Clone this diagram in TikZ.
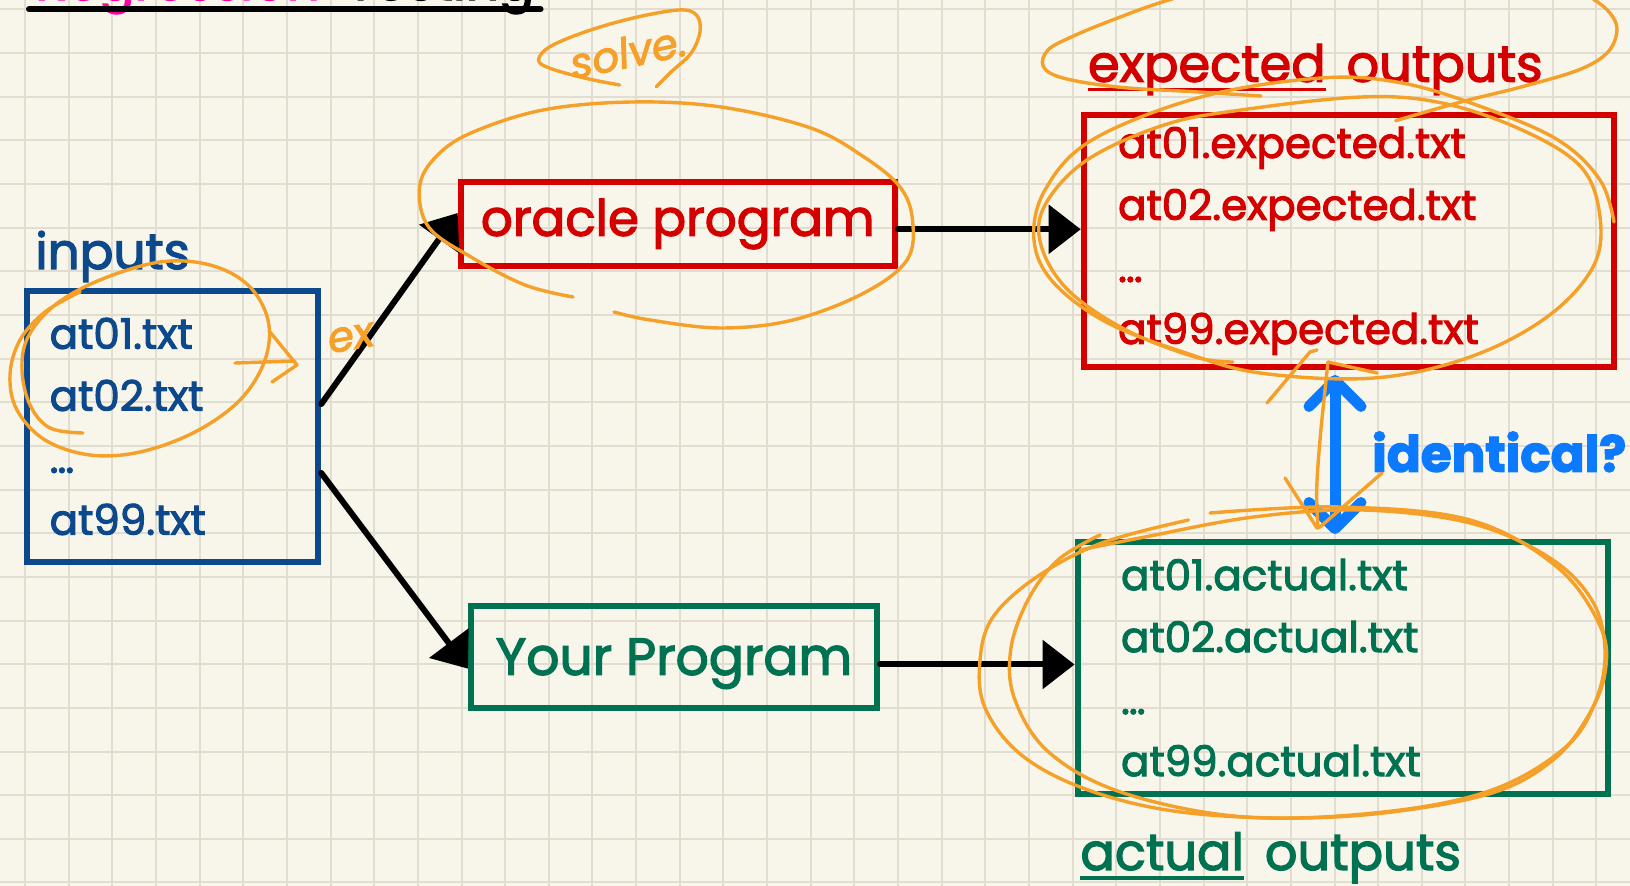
\documentclass[tikz,border=0pt]{standalone}
\usepackage{fontspec}
\setmainfont{Poppins}[FakeBold=2.5]
\usepackage{tikz}
\usetikzlibrary{arrows.meta,positioning,calc}
\definecolor{paper}{RGB}{248,246,234}
\definecolor{gridgray}{RGB}{225,222,209}
\definecolor{inputblue}{RGB}{12,72,140}
\definecolor{oraclered}{RGB}{212,0,0}
\definecolor{progreen}{RGB}{0,114,82}
\definecolor{askblue}{RGB}{12,122,255}
\definecolor{marker}{RGB}{245,160,40}
\definecolor{titlepink}{RGB}{255,0,160}
\tikzset{
    listbox/.style={rectangle, draw, line width=3pt, align=left, inner ysep=0pt, minimum height=125.85pt, font=\fontsize{21}{31}\selectfont},
    progbox/.style={rectangle, draw, line width=3pt, inner sep=0pt, font=\fontsize{25}{30}\selectfont},
    heading/.style={inner sep=0pt, anchor=base west, font=\fontsize{25.5}{32}\selectfont},
    flow/.style={draw, line width=3pt, line cap=round, -{Triangle[length=16pt, width=24pt]}},
    compare/.style={draw=askblue, line width=5.5pt, line cap=round, {Straight Barb[length=13pt, width=26pt, round]}-{Straight Barb[length=13pt, width=26pt, round]}},
    scribble/.style={draw=marker, line width=1.7pt, line cap=round, line join=round},
    scrawl/.style={marker, inner sep=0pt, font=\fontsize{21}{25}\selectfont\itshape},
    gridline/.style={draw=gridgray, line width=1pt}
}
\begin{document}
\begin{tikzpicture}[x=0.5pt, y=-0.5pt]
    \useasboundingbox (0,0) rectangle (1630,886);
    \clip (0,0) rectangle (1630,886);
    \fill [paper] (0,0) rectangle (1630,886);

    % squared paper
    \foreach \i in {0,...,36}
        \draw [gridline] ({25+43.65*\i},0) -- ({25+43.65*\i},886);
    \foreach \j in {0,...,20}
        \draw [gridline] (0,{9.5+43.65*\j}) -- (1630,{9.5+43.65*\j});

    % title (runs off the top)
    \node [heading, titlepink, font=\fontsize{26}{30}\selectfont] (regr) at (35,0) {Regression};
    \node [heading, font=\fontsize{26}{30}\selectfont, right=13pt of regr.base east, anchor=base west] (testing) {Testing};
    \draw [line width=3pt, line cap=round] ([shift={(-3pt,-4.65pt)}]regr.base west) -- ([shift={(3pt,-4.65pt)}]testing.base east);

    % boxes
    \node [listbox, inputblue, text width=122.8pt, inner xsep=11.5pt, minimum height=135.5pt] (inputs) at (172.5,426.5) {at01.txt\\at02.txt\\\dots\\at99.txt};
    \node [progbox, oraclered, minimum width=217pt, minimum height=41.9pt] (oracle) at (677.7,224) {oracle program};
    \node [progbox, progreen, minimum width=203pt, minimum height=50.85pt, text depth=0pt, font=\fontsize{26}{30}\selectfont] (program) at (674,656.7) {Your Program};
    \node [listbox, oraclered, text width=230.5pt, inner xsep=17.2pt] (expected) at (1348.6,240.8) {at01.expected.txt\\at02.expected.txt\\\dots\\at99.expected.txt};
    \node [listbox, progreen, text width=221.75pt, inner xsep=21.75pt] (actual) at (1342.8,667.7) {at01.actual.txt\\at02.actual.txt\\\dots\\at99.actual.txt};

    % headings
    \node [heading, inputblue, font=\fontsize{25}{30}\selectfont] (inlabel) at (35,269) {inputs};
    \node [heading, oraclered] (expword) at (1087.6,81.7) {expected};
    \node [heading, oraclered, right=10pt of expword.base east, anchor=base west] (expout) {outputs};
    \draw [oraclered, line width=1.5pt] ([yshift=-3.8pt]expword.base west) -- ([yshift=-3.8pt]expword.base east);
    \node [heading, progreen] (actword) at (1080,870) {actual};
    \node [heading, progreen, right=10pt of actword.base east, anchor=base west] (actout) {outputs};
    \draw [progreen, line width=2pt] ([yshift=-3.85pt]actword.base west) -- ([yshift=-3.85pt]actword.base east);

    % data flow
    \draw [flow] ([yshift=11.25pt]inputs.east) -- ([yshift=5.5pt]oracle.west);
    \draw [flow] ([yshift=-23.25pt]inputs.east) -- ([yshift=-6pt]program.west);
    \draw [flow] ([yshift=-2.65pt]oracle.east) -- ([yshift=-2.65pt]oracle.east -| expected.west);
    \draw [flow] ([yshift=-3.9pt]program.east) -- ([yshift=-3.9pt]program.east -| actual.west);

    % comparison
    \coordinate (cmptop) at ([xshift=-6.8pt]expected.south);
    \path (cmptop |- actual.north) coordinate (cmpbot);
    \draw [compare] ([yshift=-2.65pt]cmptop) -- ([yshift=2.4pt]cmpbot);
    \node [heading, askblue, font=\fontsize{25}{30}\selectfont\bfseries] (same) at (1371.7,471.7) {identical?};

    % marker notes on top
    \draw [scribble] plot [smooth, tension=0.6] coordinates {(619.6,85) (585.7,78.3) (550,68.3) (538.6,60) (550,46.7) (585.7,31.7) (632,18.3) (678.6,10) (696.4,15) (700,31.7) (691,53.3) (671.4,71.7) (656.4,86.7)};
    \node [scrawl, rotate=12] (solve) at (628,52) {solve.};
    \draw [scribble] plot [smooth, tension=0.6] coordinates {(573,297) (525,285) (471,257) (428.6,227) (419.6,187) (435.7,157) (471,133) (543,110) (632,102) (721,107) (810.7,128) (864,157) (900,187) (912.5,220) (907,260) (864,293) (793,320) (721,328) (650,320) (614,312)};
    \draw [scribble] plot [smooth, tension=0.6] coordinates {(83,433) (50,428) (30,405) (22,370) (28,337) (55,305) (100,280) (160,262) (210,265) (248,285) (268,320) (265,360) (240,400) (195,432) (140,452) (90,455) (45,440) (17,410) (10,375) (20,340) (45,312) (80,292)};
    \draw [scribble] (235,363) -- (295,361);
    \draw [scribble] (270,332) -- (297,365) -- (272,382);
    \node [scrawl, rotate=10] (ex) at (351,338) {ex};
    \draw [scribble] plot [smooth, tension=0.6] coordinates {(1261,96) (1193,91.7) (1120.5,87.3) (1064,78.3) (1043.4,66.7) (1048,50) (1072,36.7) (1112.5,20) (1168.7,0) (1260,-25) (1420,-35) (1560,-18) (1594.6,0) (1612.7,16.7) (1616.7,33.3) (1606.7,53.3) (1578.5,70) (1522.3,86.7) (1462,101.7) (1395.7,120.7)};
    \draw [scribble] plot [smooth, tension=0.6] coordinates {(1614,222) (1600,180) (1558,140) (1482,107) (1402,83) (1321,78) (1201,97) (1092,140) (1045,190) (1034,240) (1053,282) (1106,322) (1183,352) (1260,373) (1374,378) (1470,357) (1547,317) (1593,267) (1600,217) (1581,167) (1522,130) (1442,103) (1362,97) (1241,110) (1164,125) (1087,160) (1045,205) (1041,245) (1068,290) (1126,330) (1195,357) (1233,362)};
    \draw [scribble] plot [smooth, tension=0.6] coordinates {(1210,513) (1340,507) (1470,520) (1557,567) (1600.5,627) (1605,673) (1587.5,717) (1553,760) (1492,793) (1383.6,813) (1275,818) (1166.8,810) (1080,787) (1019,753) (984.7,707) (980,660) (993,617) (1036.7,577) (1101.8,543) (1188.5,520)};
    \draw [scribble] plot [smooth, tension=0.6] coordinates {(1080,550) (1145,537) (1253.6,517) (1362,510) (1470,523) (1548.4,557) (1591.8,600) (1605,650) (1596,700) (1565.8,747) (1492,790) (1383.6,812) (1245,817) (1123.5,793) (1049.7,753) (1015,700) (1010.7,650) (1028,600) (1058,560) (1100,535)};
    \draw [scribble] plot [smooth, tension=0.6] coordinates {(1328,362) (1325,390) (1320,440) (1316.7,490) (1318,528)};
    \draw [scribble] (1267,403) -- (1310,352) -- (1317,350);
    \draw [scribble] (1328,362) -- (1377,373);
    \draw [scribble] (1285,478) -- (1317,528) -- (1320,527) -- (1382,473);
\end{tikzpicture}
\end{document}
